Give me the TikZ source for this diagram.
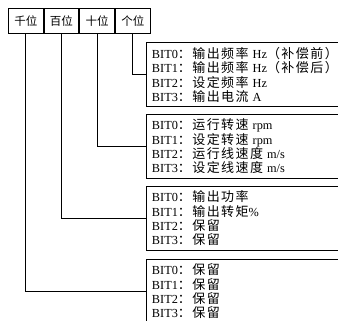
\documentclass[tikz,border=0pt]{standalone}
\usepackage{fontspec}
\setmainfont{Liberation Serif}
\newfontfamily\cjk{Noto Sans CJK SC}
\newfontfamily\cjkwide[LetterSpace=11]{Noto Sans CJK SC}
\newcommand{\zh}[1]{{\cjk #1}}
\newcommand{\zhw}[1]{{\fontsize{13}{14.3}\cjkwide #1}}
\usepackage{tikz}
\usetikzlibrary{positioning}

\begin{document}
\begin{tikzpicture}[x=1pt, y=1pt,
cell/.style={rectangle, draw=black, line width=0.9pt, minimum width=34.75pt, minimum height=25pt, inner sep=0pt, font=\fontsize{11.5}{14.3}\selectfont},
bitbox/.style={rectangle, draw=black, line width=0.9pt, anchor=north west, text width=196pt, inner xsep=5.5pt, inner ysep=0pt, minimum height=64pt, align=left, font=\fontsize{12.3}{14.3}\selectfont},
link/.style={draw=black, line width=0.9pt}
]
\useasboundingbox (0,0) rectangle (338,-321);
\clip (0,0) rectangle (338,-321);
% header
\node[cell, anchor=north west] (qian) at (8,-8) {\zh{千位}};
\node[cell, right=0pt of qian] (bai) {\zh{百位}};
\node[cell, right=0pt of bai] (shi) {\zh{十位}};
\node[cell, right=0pt of shi] (ge) {\zh{个位}};
% bit boxes
\node[bitbox] (gebox) at (146,-42.5) {BIT0\zhw{：输出频率} Hz\zhw{（补偿前）}\\BIT1\zhw{：输出频率} Hz\zhw{（补偿后）}\\BIT2\zhw{：设定频率} Hz\\BIT3\zhw{：输出电流} A};
\node[bitbox] (shibox) at (146,-114) {BIT0\zhw{：运行转速} rpm\\BIT1\zhw{：设定转速} rpm\\BIT2\zhw{：运行线速度} m/s\\BIT3\zhw{：设定线速度} m/s};
\node[bitbox] (baibox) at (146,-186) {BIT0\zhw{：输出功率}\\BIT1\zhw{：输出转矩}\%\\BIT2\zhw{：保留}\\BIT3\zhw{：保留}};
\node[bitbox] (qianbox) at (146,-259) {BIT0\zhw{：保留}\\BIT1\zhw{：保留}\\BIT2\zhw{：保留}\\BIT3\zhw{：保留}};
% connectors
\draw[link] (ge.south) |- (gebox.west);
\draw[link] (shi.south) |- (shibox.west);
\draw[link] (bai.south) |- (baibox.west);
\draw[link] (qian.south) |- (qianbox.west);
\end{tikzpicture}
\end{document}
